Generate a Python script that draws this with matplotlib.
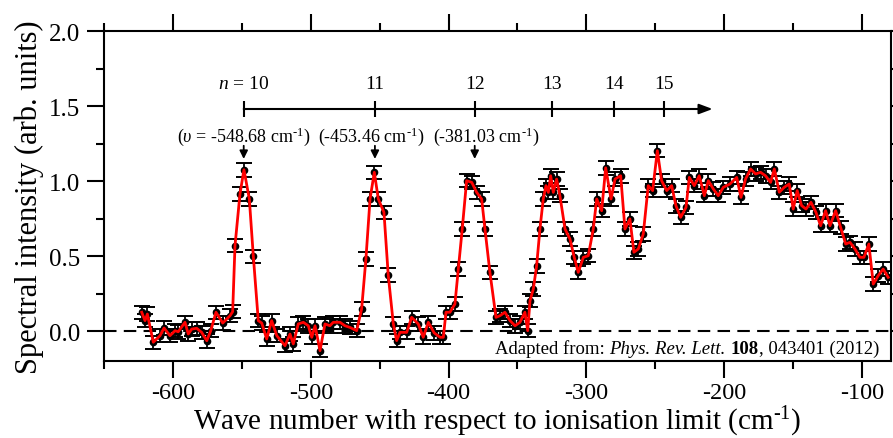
import numpy as np
import matplotlib
matplotlib.use("Agg")
import matplotlib.pyplot as plt
from matplotlib.offsetbox import TextArea, HPacker, AnchoredOffsetbox

plt.rcParams['font.family'] = ['Liberation Serif', 'DejaVu Serif']
plt.rcParams['mathtext.fontset'] = 'custom'
plt.rcParams['mathtext.rm'] = 'Liberation Serif'
plt.rcParams['mathtext.it'] = 'Liberation Serif:italic'
plt.rcParams['mathtext.bf'] = 'Liberation Serif:bold'
plt.rcParams['axes.unicode_minus'] = False

# spectrum (wave number in cm-1, intensity in arb. units)
wave = [-622.7, -620.3, -618.6, -614.3, -609.4, -606.5, -602.2, -598.5, -596.2, -591.3,
        -588.9, -586.4, -582.8, -579.2, -575.5, -572.6, -568.8, -563.9, -558.6, -556.7,
        -555.0, -551.4, -548.5, -544.6, -541.7, -538.1, -535.6, -532.0, -528.4, -524.7,
        -518.7, -515.1, -512.7, -509.1, -505.4, -501.8, -499.3, -496.9, -493.3, -489.7,
        -486.1, -483.7, -478.8, -475.2, -471.6, -466.7, -463.1, -460.0, -457.0, -453.9,
        -451.0, -446.9, -443.8, -440.1, -437.7, -435.3, -430.4, -426.8, -422.0, -418.4,
        -414.7, -410.5, -406.2, -403.8, -401.9, -399.0, -395.4, -392.9, -390.1, -386.9,
        -383.2, -379.6, -376.0, -373.6, -370.0, -365.6, -362.7, -359.1, -355.4, -351.8,
        -348.2, -344.6, -342.6, -340.9, -338.5, -336.1, -333.7, -331.3, -329.3, -327.6,
        -325.9, -324.0, -321.6, -319.2, -315.5, -311.9, -308.8, -305.9, -302.2, -298.6,
        -295.0, -292.5, -288.9, -286.0, -282.1, -279.2, -275.1, -272.0, -268.4, -265.5,
        -262.3, -258.7, -255.1, -251.9, -248.5, -245.4, -241.7, -238.1, -235.0, -231.6,
        -227.7, -225.3, -221.7, -218.1, -214.4, -211.5, -207.9, -204.3, -200.6, -195.8,
        -190.9, -187.8, -184.5, -180.8, -177.2, -173.6, -170.0, -166.3, -163.6, -160.0,
        -156.4, -152.8, -149.9, -147.0, -143.8, -140.6, -137.0, -133.4, -130.0, -126.4,
        -123.2, -119.1, -115.5, -111.8, -108.7, -105.1, -101.5, -98.6, -95.0, -91.8,
        -88.2, -84.6, -81.0]
intensity = [0.127, 0.071, 0.115, -0.073, -0.029, 0.022, -0.029, 0.004, -0.003, 0.060,
             -0.018, 0.015, 0.020, -0.007, -0.063, 0.004, 0.127, 0.055, 0.104, 0.131,
             0.571, 0.915, 1.077, 0.882, 0.500, 0.071, 0.055, -0.051, 0.071, -0.029,
             -0.096, -0.018, -0.084, 0.049, 0.060, 0.037, -0.040, 0.037, -0.129, 0.049,
             0.037, 0.060, 0.060, 0.037, 0.026, 0.004, 0.149, 0.482, 0.882, 1.060,
             0.882, 0.793, 0.375, 0.049, -0.062, -0.007, -0.007, 0.093, 0.049, -0.040,
             0.060, -0.010, -0.040, -0.040, 0.127, 0.127, 0.182, 0.415, 0.682, 1.004,
             0.993, 0.926, 0.882, 0.682, 0.393, 0.093, 0.104, 0.127, 0.071, 0.037,
             0.060, 0.127, 0.004, 0.204, 0.282, 0.437, 0.682, 0.882, 0.971, 0.926,
             1.037, 0.926, 1.015, 0.904, 0.682, 0.615, 0.493, 0.393, 0.493, 0.504,
             0.682, 0.882, 0.804, 1.090, 0.882, 1.015, 1.037, 0.682, 0.749, 0.527,
             0.549, 0.649, 0.971, 0.938, 1.204, 1.004, 0.938, 0.971, 0.837, 0.760,
             0.826, 1.026, 0.971, 1.037, 0.904, 1.004, 0.949, 0.904, 0.960, 0.982,
             1.026, 0.893, 1.015, 1.082, 1.049, 1.060, 1.037, 0.993, 1.082, 0.927,
             0.960, 0.982, 0.815, 0.938, 0.838, 0.815, 0.860, 0.793, 0.704, 0.804,
             0.704, 0.804, 0.693, 0.582, 0.593, 0.549, 0.493, 0.493, 0.582, 0.315,
             0.371, 0.415, 0.360]
err = 0.045

# Rydberg series markers
n_labels = [r'$\mathit{n}$ = 10', '11', '12', '13', '14', '15']
n_pos = [-548.68, -453.46, -381.03, -324.66, -279.94, -243.86]
peak_labels = [r'($\mathit{υ}$ = -548.68 cm$^{\text{-1}}$)',
               r'(-453.46 cm$^{\text{-1}}$)',
               r'(-381.03 cm$^{\text{-1}}$)']
peak_pos = [-548.68, -453.46, -381.03]

fig = plt.figure(figsize=(8.93, 4.39), dpi=100)
ax = fig.add_axes([104.1 / 893, 76.7 / 439, 786.8 / 893, 330 / 439])

ax.axhline(0, color='k', ls=(0, (6, 3.5)), lw=1.5, zorder=1)
ax.errorbar(wave, intensity, yerr=err, fmt='o', color='k', ms=4.5,
            capsize=5.5, elinewidth=1.3, capthick=1.4, zorder=2)
ax.plot(wave, intensity, color='red', lw=2.0, zorder=3)

# series arrow
y_ax = 1.482
ax.annotate('', xy=(-208.4, y_ax), xytext=(n_pos[0], y_ax),
            arrowprops=dict(arrowstyle='-|>,head_length=0.4,head_width=0.15',
                            lw=1.5, color='k', mutation_scale=20,
                            shrinkA=0, shrinkB=0))
ax.vlines(n_pos, y_ax - 0.055, y_ax + 0.055, color='k', lw=1.5)
for lab, xp in zip(n_labels, n_pos):
    ax.text(xp, 1.655, lab, ha='center', va='center', fontsize=14)

offsets = [0, -3, 8]
for lab, xp, dx in zip(peak_labels, peak_pos, offsets):
    ax.text(xp + dx, 1.304, lab, ha='center', va='center', fontsize=13)
    ax.annotate('', xy=(xp, 1.149), xytext=(xp, 1.237),
                arrowprops=dict(arrowstyle='-|>,head_length=0.4,head_width=0.2',
                                lw=1.3, color='k', mutation_scale=12,
                                shrinkA=0, shrinkB=0))

# source note
fs = 13.5
parts = [TextArea('Adapted from: ', textprops=dict(fontsize=fs)),
         TextArea('Phys. Rev. Lett. ', textprops=dict(fontsize=fs, style='italic')),
         TextArea('108', textprops=dict(fontsize=fs, weight='bold')),
         TextArea(', 043401 (2012)', textprops=dict(fontsize=fs))]
note = HPacker(children=parts, align='baseline', pad=0, sep=0)
anchored = AnchoredOffsetbox(loc='center right', child=note, frameon=False,
                             bbox_to_anchor=(0.985, 0.04), bbox_transform=ax.transAxes,
                             pad=0, borderpad=0)
ax.add_artist(anchored)

ax.set_xlim(-650, -79)
ax.set_ylim(-0.2, 2.0)
ax.set_xticks([-600, -500, -400, -300, -200, -100])
ax.set_xticks(np.arange(-650, -79, 50), minor=True)
ax.set_yticks([0.0, 0.5, 1.0, 1.5, 2.0])
ax.set_yticks(np.arange(0, 2.01, 0.25), minor=True)
ax.set_yticklabels(['0.0', '0.5', '1.0', '1.5', '2.0'])
ax.tick_params(which='both', direction='out', top=True, right=True, width=1.5,
               labelsize=18)
ax.tick_params(which='major', length=12, pad=5)
ax.tick_params(which='minor', length=6)
ax.tick_params(axis='x', which='major', pad=3, labelsize=17.5)
for s in ax.spines.values():
    s.set_linewidth(1.5)

ax.set_xlabel(r'Wave number with respect to ionisation limit (cm$^{\text{-1}}$)',
              fontsize=21, labelpad=0.5)
ax.set_ylabel('Spectral intensity (arb. units)', fontsize=22, labelpad=4)

fig.savefig('out.png', dpi=100)
